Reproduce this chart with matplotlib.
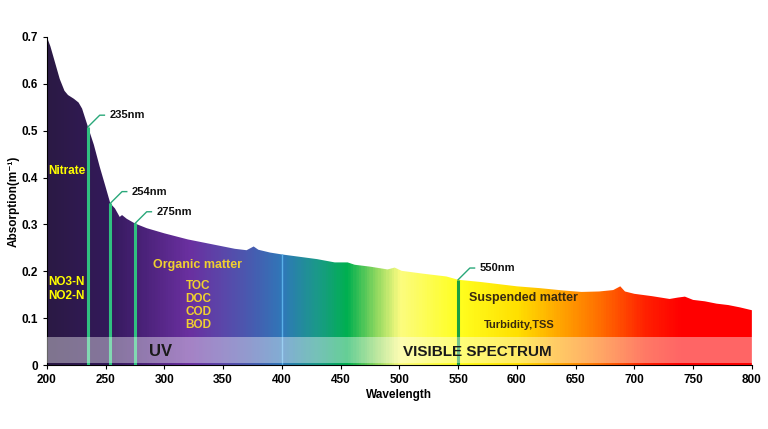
import numpy as np
import matplotlib
matplotlib.use("Agg")
import matplotlib.pyplot as plt
from matplotlib.colors import LinearSegmentedColormap
from matplotlib.patches import Polygon, Rectangle

plt.rcParams['font.family'] = ['Liberation Sans', 'DejaVu Sans']
plt.rcParams['font.weight'] = 'bold'

# absorption curve
wavelength = [200, 203, 207, 211, 215, 218, 223, 227, 230, 235, 240, 245, 250, 254,
              258, 262, 264, 268, 275, 285, 300, 320, 340, 360, 370, 376, 380, 390,
              400, 415, 430, 445, 456, 462, 475, 490, 496, 502, 520, 540, 550, 570,
              600, 620, 640, 655, 670, 682, 688, 692, 700, 715, 730, 737, 743, 750,
              760, 770, 780, 790, 800]
absorption = [0.70, 0.68, 0.645, 0.61, 0.585, 0.576, 0.568, 0.56, 0.547, 0.508, 0.47,
              0.423, 0.38, 0.345, 0.334, 0.316, 0.32, 0.312, 0.302, 0.292, 0.281,
              0.268, 0.258, 0.248, 0.245, 0.253, 0.246, 0.24, 0.236, 0.231, 0.226,
              0.219, 0.219, 0.214, 0.21, 0.204, 0.208, 0.201, 0.195, 0.189, 0.182,
              0.177, 0.168, 0.164, 0.159, 0.156, 0.157, 0.16, 0.168, 0.157, 0.152,
              0.147, 0.141, 0.144, 0.146, 0.139, 0.136, 0.131, 0.128, 0.123, 0.117]

marked_nm = [235, 254, 275, 550]
marked_labels = ['235nm', '254nm', '275nm', '550nm']
xticks = [200, 250, 300, 350, 400, 450, 500, 550, 600, 650, 700, 750, 800]
yticks = [0, 0.1, 0.2, 0.3, 0.4, 0.5, 0.6, 0.7]
ytick_labels = ['0', '0.1', '0.2', '0.3', '0.4', '0.5', '0.6', '0.7']

# spectrum colours along the wavelength axis
spec_nm = [200, 250, 280, 320, 350, 380, 400, 430, 455, 480, 500, 550, 600, 640, 670, 710, 740, 800]
spec_col = ['#2b1a45', '#33195a', '#4a2278', '#6a30a0', '#5a48aa', '#4262b2', '#2f78b8',
            '#1a9a88', '#00b050', '#90d860', '#fcfc80', '#ffff20', '#ffe000', '#ffa000',
            '#ff7000', '#ff2000', '#ff0000', '#ff0000']

fig = plt.figure(figsize=(7.68, 4.29), dpi=100)
ax = fig.add_axes([0.061, 0.149, 0.918, 0.765])

pos = [(v - 200) / 600 for v in spec_nm]
cmap = LinearSegmentedColormap.from_list('spec', list(zip(pos, spec_col)))
grad = np.linspace(0, 1, 600).reshape(1, -1)
img = ax.imshow(grad, cmap=cmap, extent=[200, 800, 0, 0.7], aspect='auto', origin='lower', zorder=1)

verts = [(wavelength[0], 0)] + list(zip(wavelength, absorption)) + [(wavelength[-1], 0)]
poly = Polygon(verts, closed=True, facecolor='none', edgecolor='none')
ax.add_patch(poly)
img.set_clip_path(poly)

# light band with UV / visible labels
ax.add_patch(Rectangle((200, 0.005), 600, 0.055, facecolor='white', alpha=0.4, edgecolor='none', zorder=5))
ax.text(297, 0.028, 'UV', fontsize=12, ha='center', va='center', color='#1a1a1a', zorder=6)
ax.text(566, 0.028, 'VISIBLE SPECTRUM', fontsize=11, ha='center', va='center', color='#1a1a1a', zorder=6)

# marker lines
ax.vlines(400, 0, np.interp(400, wavelength, absorption), color='#5ab0e8', lw=1, zorder=2)
for nm, lab in zip(marked_nm, marked_labels):
    top = np.interp(nm, wavelength, absorption)
    col = '#1aa040' if nm == 550 else '#30c080'
    ax.vlines(nm, 0, top, color=col, lw=2.2, zorder=4)
    ax.plot([nm, nm + 10, nm + 14], [top, top + 0.025, top + 0.025], color='#2aa87a', lw=1, zorder=4)
    ax.text(nm + 18, top + 0.025, lab, fontsize=8, va='center', ha='left', color='#111111', zorder=6)

# region labels
ax.text(201, 0.415, 'Nitrate', fontsize=8.5, color='#ffff00', va='center', zorder=6)
ax.text(201, 0.177, 'NO3-N', fontsize=8.5, color='#ffff00', va='center', zorder=6)
ax.text(201, 0.147, 'NO2-N', fontsize=8.5, color='#ffff00', va='center', zorder=6)
ax.text(290, 0.213, 'Organic matter', fontsize=9, color='#f0d030', va='center', zorder=6)
for txt, yy in zip(['TOC', 'DOC', 'COD', 'BOD'], [0.168, 0.141, 0.113, 0.085]):
    ax.text(318, yy, txt, fontsize=8.5, color='#f0d030', va='center', zorder=6)
ax.text(559, 0.143, 'Suspended matter', fontsize=9, color='#3a2a10', va='center', zorder=6)
ax.text(572, 0.085, 'Turbidity,TSS', fontsize=8, color='#3a2a10', va='center', zorder=6)

ax.set_xlim(200, 800)
ax.set_ylim(0, 0.7)
ax.set_xticks(xticks)
ax.set_yticks(yticks)
ax.set_yticklabels(ytick_labels)
ax.tick_params(labelsize=8.5, length=3)
for s in ['top', 'right']:
    ax.spines[s].set_visible(False)
ax.set_xlabel('Wavelength', fontsize=8.5, fontweight='bold', labelpad=2)
ax.set_ylabel('Absorption(m⁻¹)', fontsize=8.5, fontweight='bold')
ax.yaxis.set_label_coords(-0.038, 0.5)

fig.savefig('out.png', dpi=100)
